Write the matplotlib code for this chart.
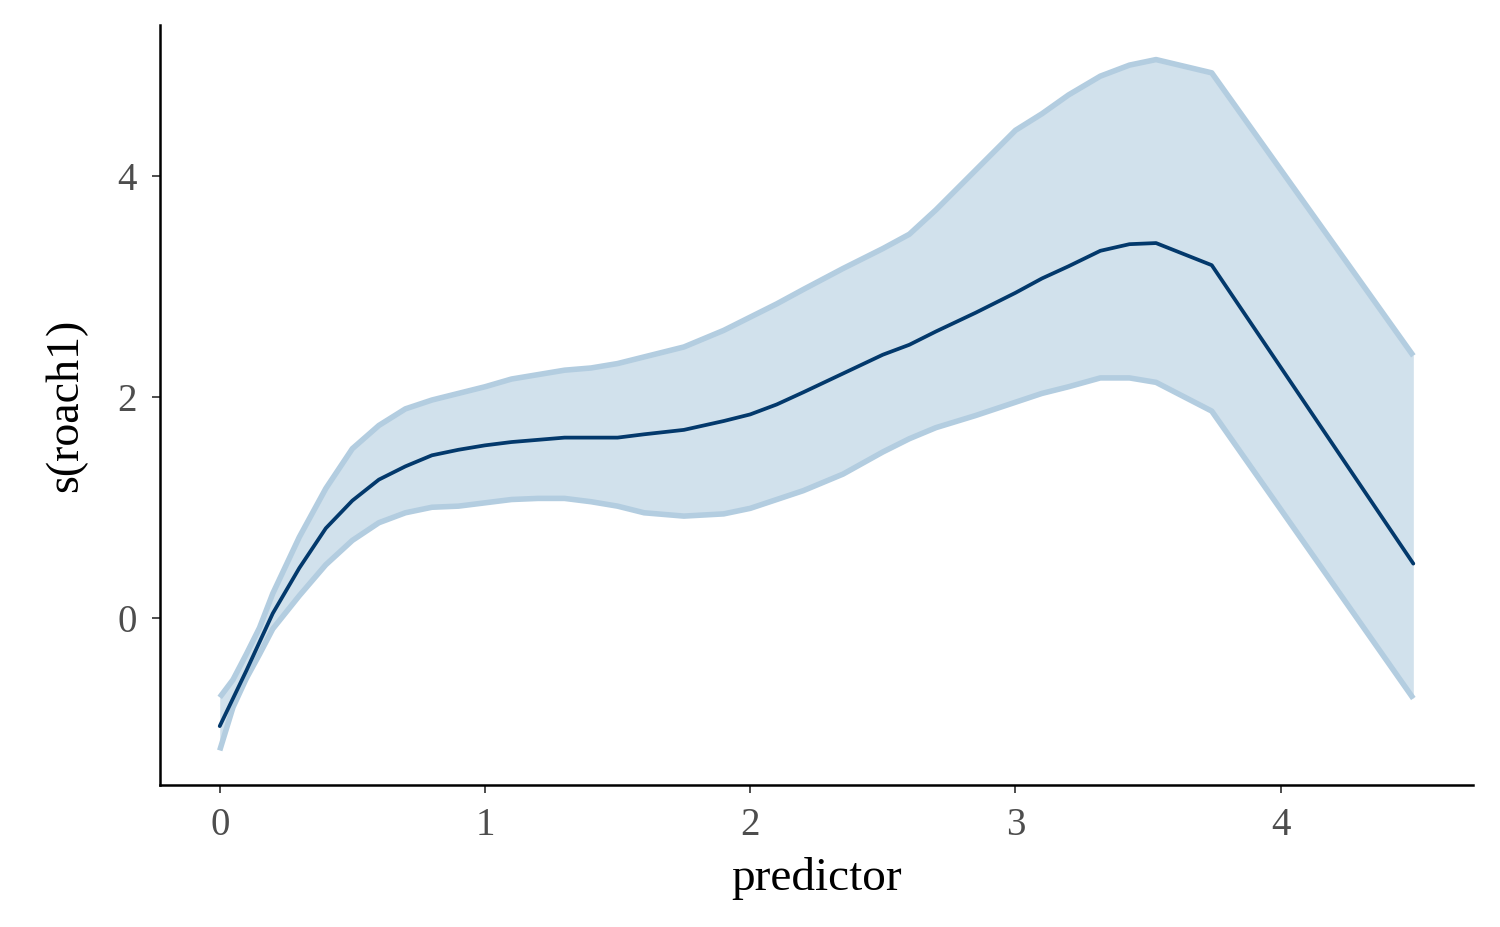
import matplotlib
matplotlib.use("Agg")
import matplotlib.pyplot as plt
import numpy as np

predictor = [0, 0.05, 0.1, 0.15, 0.2, 0.3, 0.4, 0.5, 0.6, 0.7, 0.8, 0.9, 1.0, 1.1, 1.2,
             1.3, 1.4, 1.5, 1.6, 1.75, 1.9, 2.0, 2.1, 2.2, 2.35, 2.5, 2.6, 2.7, 2.85,
             3.0, 3.1, 3.2, 3.32, 3.43, 3.53, 3.74, 4.5]
upper = [-0.72, -0.56, -0.33, -0.09, 0.22, 0.73, 1.17, 1.53, 1.74, 1.89, 1.97, 2.03, 2.09,
         2.16, 2.20, 2.24, 2.26, 2.30, 2.36, 2.45, 2.60, 2.72, 2.84, 2.97, 3.16, 3.34,
         3.47, 3.69, 4.05, 4.41, 4.56, 4.73, 4.90, 5.00, 5.05, 4.93, 2.37]
mean = [-0.98, -0.73, -0.48, -0.22, 0.04, 0.45, 0.81, 1.06, 1.25, 1.37, 1.47, 1.52, 1.56,
        1.59, 1.61, 1.63, 1.63, 1.63, 1.66, 1.70, 1.78, 1.84, 1.93, 2.04, 2.21, 2.38,
        2.47, 2.59, 2.76, 2.94, 3.07, 3.18, 3.32, 3.38, 3.39, 3.19, 0.49]
lower = [-1.20, -0.81, -0.55, -0.33, -0.10, 0.20, 0.48, 0.70, 0.86, 0.95, 1.00, 1.01, 1.04,
         1.07, 1.08, 1.08, 1.05, 1.01, 0.95, 0.92, 0.94, 0.99, 1.07, 1.15, 1.30, 1.50,
         1.62, 1.72, 1.83, 1.95, 2.03, 2.09, 2.17, 2.17, 2.13, 1.87, -0.73]
xticks = [0, 1, 2, 3, 4]
yticks = [0, 2, 4]

plt.rcParams['font.family'] = ['Liberation Serif', 'DejaVu Serif']

fig = plt.figure(figsize=(15, 9.27), dpi=100)
ax = fig.add_axes([0.1067, 0.1532, 0.8753, 0.8198])

ax.fill_between(predictor, lower, upper, color='#d1e1ec', linewidth=0, zorder=1)
ax.plot(predictor, upper, color='#b3cde0', lw=4, solid_capstyle='butt', zorder=2)
ax.plot(predictor, lower, color='#b3cde0', lw=4, solid_capstyle='butt', zorder=2)
ax.plot(predictor, mean, color='#03396c', lw=2.7, solid_capstyle='round', zorder=3)

xr = max(predictor) - min(predictor)
ax.set_xlim(min(predictor) - 0.05 * xr, max(predictor) + 0.05 * xr)
ymin, ymax = min(lower), max(upper)
yr = ymax - ymin
ax.set_ylim(ymin - 0.05 * yr, ymax + 0.05 * yr)

ax.set_xticks(xticks)
ax.set_yticks(yticks)
for s in ['top', 'right']:
    ax.spines[s].set_visible(False)
for s in ['left', 'bottom']:
    ax.spines[s].set_linewidth(1.8)
    ax.spines[s].set_color('black')
ax.tick_params(axis='both', colors='#4d4d4d', labelsize=28, length=5.5, width=1.4)
ax.tick_params(axis='x', pad=10)
ax.tick_params(axis='y', pad=11)
ax.set_xlabel('predictor', fontsize=34, color='black', labelpad=10)
ax.set_ylabel('s(roach1)', fontsize=33, color='black', labelpad=22)

fig.savefig('out.png', dpi=100)
